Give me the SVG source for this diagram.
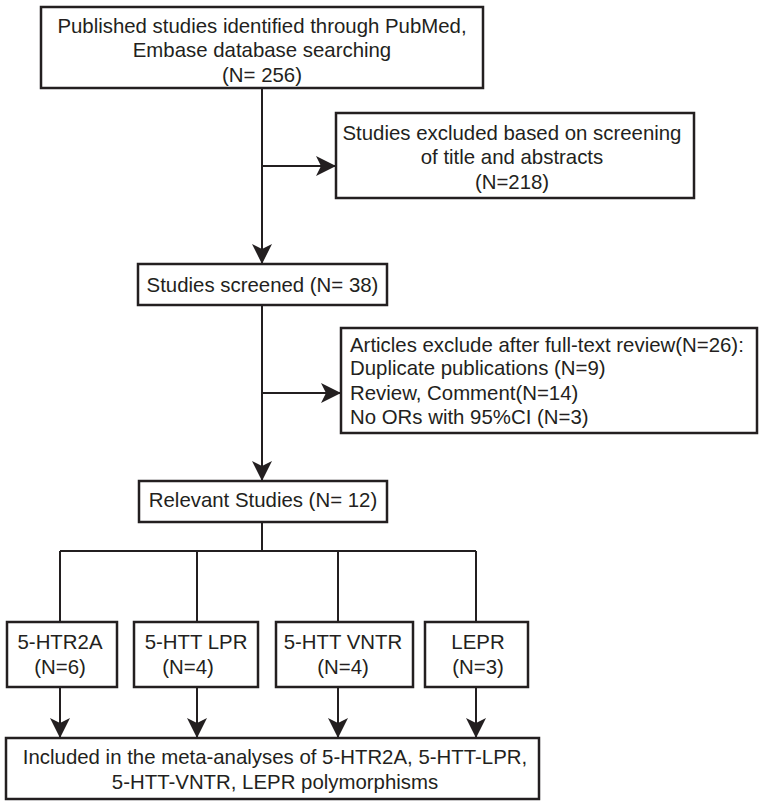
<svg xmlns="http://www.w3.org/2000/svg" width="764" height="807" viewBox="0 0 764 807">
<defs>
<style>
.box{fill:#fff;stroke:#231f20;stroke-width:2.5}
.ln{fill:none;stroke:#231f20;stroke-width:2}
text{font-family:"Liberation Sans",Arial,sans-serif;font-size:20.4px;fill:#231f20}
.c{text-anchor:middle}
</style>
<marker id="ah" viewBox="-21 -11 22 22" refX="0" refY="0" markerWidth="22" markerHeight="22" markerUnits="userSpaceOnUse" orient="auto">
<path d="M0,0 L-20,-10 L-15,0 L-20,10 Z" fill="#231f20"/>
</marker>
</defs>
<rect width="764" height="807" fill="#fff"/>
<g id="connectors">
<path class="ln" d="M262,88 V264" marker-end="url(#ah)"/>
<path class="ln" d="M262,166 H336" marker-end="url(#ah)"/>
<path class="ln" d="M262,305 V481" marker-end="url(#ah)"/>
<path class="ln" d="M262,393 H341" marker-end="url(#ah)"/>
<path class="ln" d="M262,522 V551 M60,551 H476 M60,551 V622 M197,551 V622 M338,551 V622 M476,551 V622"/>
<path class="ln" d="M60,687 V738" marker-end="url(#ah)"/>
<path class="ln" d="M197,687 V738" marker-end="url(#ah)"/>
<path class="ln" d="M338,687 V738" marker-end="url(#ah)"/>
<path class="ln" d="M476,687 V738" marker-end="url(#ah)"/>
</g>
<g id="identified">
<rect class="box" x="41" y="7" width="442" height="81"/>
<text class="c" x="262" y="33">Published studies identified through PubMed,</text>
<text class="c" x="262" y="57">Embase database searching</text>
<text class="c" x="262" y="82">(N= 256)</text>
</g>
<g id="excluded1">
<rect class="box" x="336" y="113" width="358" height="85"/>
<text class="c" x="512" y="140">Studies excluded based on screening</text>
<text class="c" x="512" y="164">of title and abstracts</text>
<text class="c" x="512" y="189">(N=218)</text>
</g>
<g id="screened">
<rect class="box" x="138" y="264" width="249" height="41"/>
<text class="c" x="262.5" y="292">Studies screened (N= 38)</text>
</g>
<g id="excluded2">
<rect class="box" x="341" y="328" width="416" height="105"/>
<text x="350" y="352">Articles exclude after full-text review(N=26):</text>
<text x="350" y="375">Duplicate publications (N=9)</text>
<text x="350" y="400">Review, Comment(N=14)</text>
<text x="350" y="424">No ORs with 95%CI (N=3)</text>
</g>
<g id="relevant">
<rect class="box" x="139" y="481" width="248" height="41"/>
<text class="c" x="263" y="507">Relevant Studies (N= 12)</text>
</g>
<g id="htr2a">
<rect class="box" x="7" y="622" width="110" height="65"/>
<text class="c" x="60" y="649">5-HTR2A</text>
<text class="c" x="60" y="674">(N=6)</text>
</g>
<g id="httlpr">
<rect class="box" x="134" y="622" width="124" height="65"/>
<text class="c" x="196" y="649">5-HTT LPR</text>
<text class="c" x="188" y="674">(N=4)</text>
</g>
<g id="httvntr">
<rect class="box" x="276" y="622" width="137" height="65"/>
<text class="c" x="343" y="649">5-HTT VNTR</text>
<text class="c" x="343" y="674">(N=4)</text>
</g>
<g id="lepr">
<rect class="box" x="425" y="622" width="103" height="65"/>
<text class="c" x="478" y="649">LEPR</text>
<text class="c" x="478" y="674">(N=3)</text>
</g>
<g id="included">
<rect class="box" x="6" y="738" width="533" height="61"/>
<text class="c" x="275" y="764">Included in the meta-analyses of 5-HTR2A, 5-HTT-LPR,</text>
<text class="c" x="275" y="789">5-HTT-VNTR, LEPR polymorphisms</text>
</g>
</svg>
